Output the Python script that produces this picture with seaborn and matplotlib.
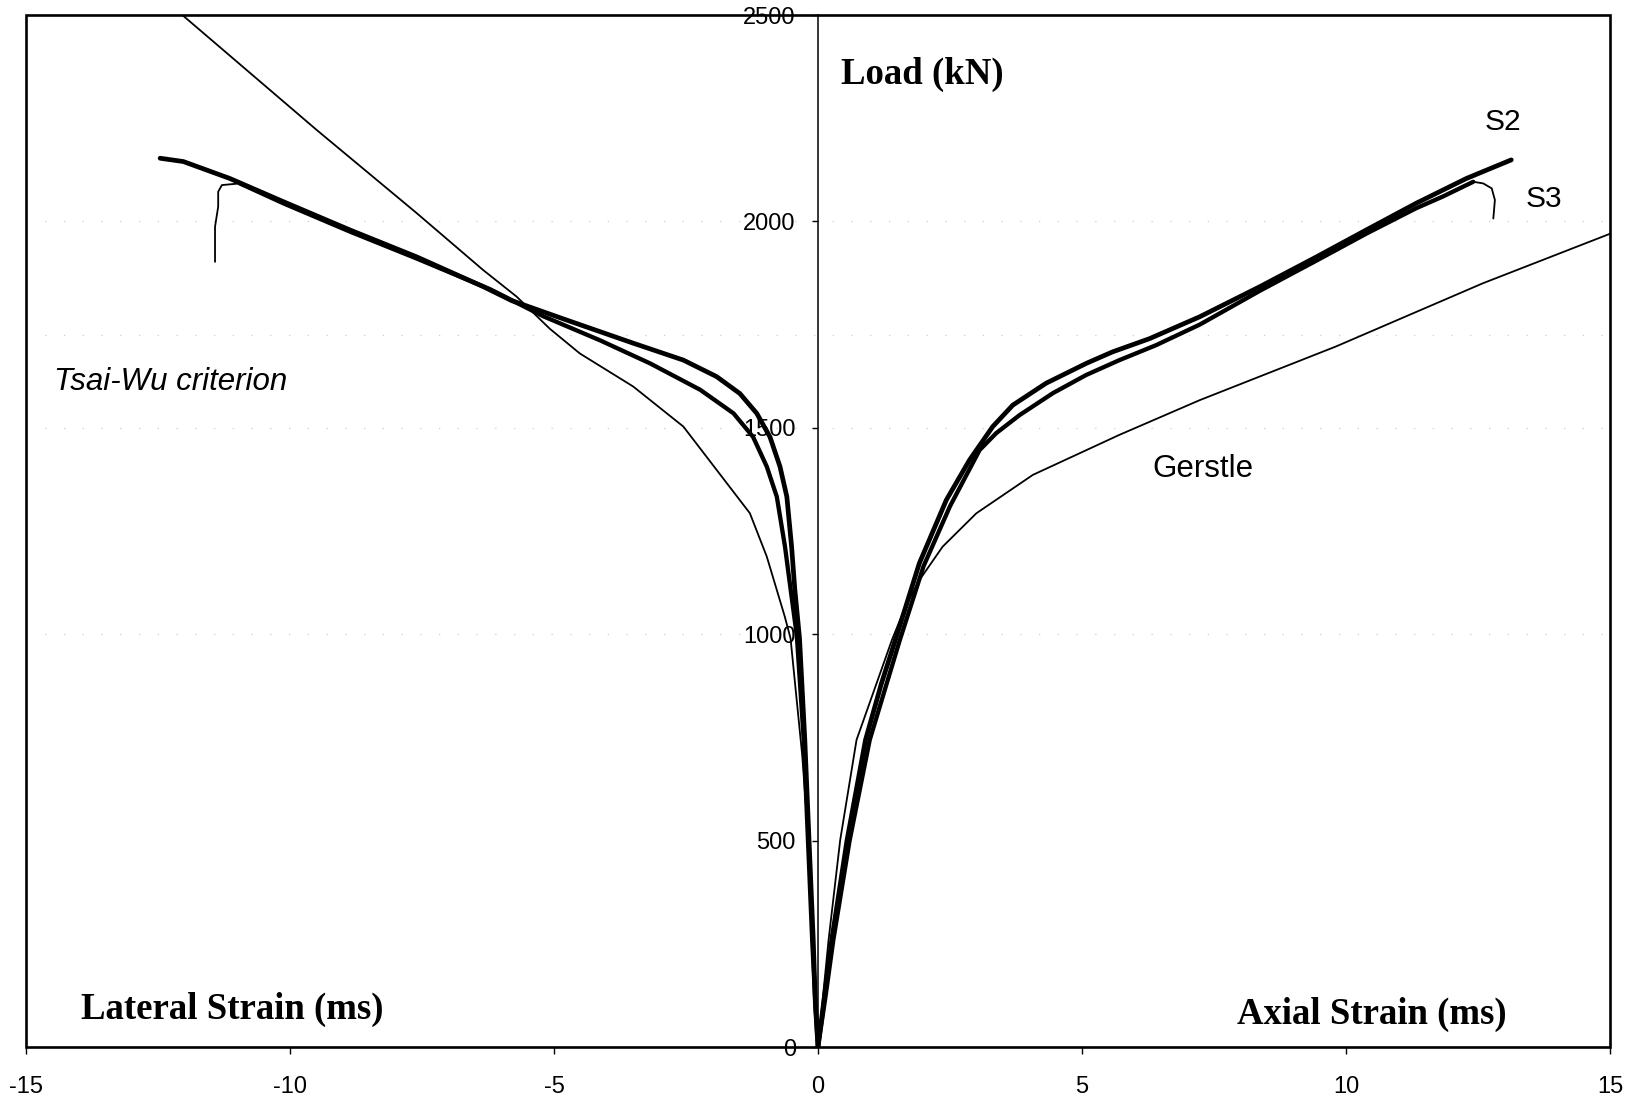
import numpy as np
import pandas as pd
import matplotlib
matplotlib.use("Agg")
import matplotlib.pyplot as plt
from matplotlib.patches import Rectangle
import seaborn as sns

# --- Measured load-strain curves (strain in ms, load in kN) ---
# Specimen S2, axial side
s2_axial_strain = [0, 0.12, 0.26, 0.55, 0.90, 1.20, 1.45, 1.92, 2.43, 2.87, 3.31, 3.69,
                   4.32, 5.08, 5.58, 6.28, 7.23, 8.37, 9.44, 10.38, 11.33, 12.28, 13.13]
s2_axial_load = [0, 120, 259, 501, 744, 880, 980, 1172, 1325, 1422, 1503, 1555,
                 1608, 1656, 1684, 1716, 1769, 1842, 1914, 1979, 2044, 2104, 2149]

# Specimen S2, lateral side
s2_lateral_strain = [0, -0.05, -0.09, -0.17, -0.25, -0.35, -0.44, -0.50, -0.59, -0.72, -0.91,
                     -1.16, -1.48, -1.92, -2.55, -3.50, -4.76, -5.80, -6.34, -7.60, -8.86,
                     -10.13, -11.14, -12.02, -12.46]
s2_lateral_load = [0, 105, 259, 501, 744, 990, 1110, 1212, 1333, 1406, 1478,
                   1535, 1583, 1624, 1664, 1705, 1761, 1808, 1842, 1914, 1979,
                   2048, 2104, 2145, 2153]

# Specimen S3, axial side (up to peak load)
s3_axial_strain = [0, 0.14, 0.29, 0.60, 0.98, 1.30, 1.55, 2.00, 2.50, 3.06, 3.375, 3.82,
                   4.45, 5.08, 5.71, 6.40, 7.23, 8.37, 9.44, 10.38, 11.33, 11.83, 12.41]
s3_axial_load = [0, 120, 259, 501, 744, 880, 986, 1165, 1310, 1446, 1487, 1531,
                 1584, 1628, 1664, 1700, 1750, 1832, 1905, 1970, 2032, 2060, 2096]
# Specimen S3, axial side (post-peak)
s3_axial_post_strain = [12.41, 12.60, 12.76, 12.82, 12.79]
s3_axial_post_load = [2096, 2092, 2080, 2052, 2007]

# Specimen S3, lateral side (up to peak load)
s3_lateral_strain = [0, -0.05, -0.11, -0.19, -0.27, -0.40, -0.52, -0.625, -0.78, -0.97, -1.23,
                     -1.60, -2.23, -3.18, -4.13, -5.20, -6.20, -7.60, -8.86, -10.13, -10.95]
s3_lateral_load = [0, 105, 259, 501, 744, 995, 1110, 1212, 1333, 1406, 1478,
                   1535, 1592, 1656, 1712, 1770, 1835, 1910, 1975, 2044, 2092]
# Specimen S3, lateral side (post-peak)
s3_lateral_post_strain = [-10.95, -11.29, -11.36, -11.36, -11.42, -11.42]
s3_lateral_post_load = [2092, 2088, 2072, 2036, 1987, 1902]

# --- Predictions ---
gerstle_strain = [0, 0.20, 0.42, 0.73, 1.40, 1.65, 1.92, 2.36, 3.00, 4.07, 5.71,
                  7.23, 9.81, 12.59, 15.20]
gerstle_load = [0, 259, 501, 744, 986, 1065, 1131, 1212, 1293, 1386, 1483,
                1567, 1697, 1850, 1980]

tsai_wu_strain = [0, -0.06, -0.15, -0.30, -0.52, -0.63, -0.97, -1.29, -1.92, -2.55, -3.50,
                  -4.51, -5.08, -5.71, -6.34, -7.60, -9.49, -12.04, -12.50]
tsai_wu_load = [0, 190, 449, 708, 990, 1043, 1188, 1293, 1398, 1503, 1600,
                1680, 1740, 1818, 1882, 2020, 2221, 2500, 2550]

x_ticks = [-15, -10, -5, 0, 5, 10, 15]
y_ticks = [0, 500, 1000, 1500, 2000, 2500]
grid_levels = [1000, 1500, 1725, 2000]

curves = {
    "S2 axial": (s2_axial_strain, s2_axial_load),
    "S2 lateral": (s2_lateral_strain, s2_lateral_load),
    "S3 axial": (s3_axial_strain, s3_axial_load),
    "S3 axial post": (s3_axial_post_strain, s3_axial_post_load),
    "S3 lateral": (s3_lateral_strain, s3_lateral_load),
    "S3 lateral post": (s3_lateral_post_strain, s3_lateral_post_load),
    "Gerstle": (gerstle_strain, gerstle_load),
    "Tsai-Wu": (tsai_wu_strain, tsai_wu_load),
}
frames = []
for name, (xs, ys) in curves.items():
    frames.append(pd.DataFrame({"strain": xs, "load": ys, "curve": name,
                                "order": np.arange(len(xs))}))
df = pd.concat(frames, ignore_index=True)

line_width = {
    "S2 axial": 3.4, "S2 lateral": 3.4, "S3 axial": 3.1, "S3 lateral": 3.1,
    "S3 axial post": 1.3, "S3 lateral post": 1.3, "Gerstle": 1.3, "Tsai-Wu": 1.3,
}

sns.set_theme(style="white")
plt.rcParams["font.family"] = ["Liberation Sans", "DejaVu Sans"]
plt.rcParams["axes.unicode_minus"] = False

fig = plt.figure(figsize=(16.37, 11.01), dpi=100)
ax = fig.add_axes([26 / 1637, 54 / 1101, 1584 / 1637, 1032 / 1101])

for level in grid_levels:
    ax.axhline(level, color="#cfcfcf", lw=0.9, ls=(0, (1, 14)), zorder=0)

for name in curves:
    sub = df[df["curve"] == name]
    sns.lineplot(data=sub, x="strain", y="load", sort=False, estimator=None,
                 color="black", lw=line_width[name], ax=ax, legend=False,
                 solid_capstyle="round", solid_joinstyle="round")

ax.set_xlim(-15, 15)
ax.set_ylim(0, 2500)
ax.set_xticks(x_ticks)
ax.set_yticks(y_ticks)
ax.set_xlabel("")
ax.set_ylabel("")

# Load axis runs up through zero strain; the frame is drawn separately
for side in ["top", "right", "bottom"]:
    ax.spines[side].set_visible(False)
ax.spines["left"].set_position(("data", 0))
ax.spines["left"].set_linewidth(1.1)
ax.spines["left"].set_color("black")
ax.add_patch(Rectangle((0, 0), 1, 1, transform=ax.transAxes, fill=False,
                       lw=1.9, edgecolor="black", clip_on=False, zorder=5))

ax.tick_params(axis="x", bottom=True, direction="out", length=5, width=1.0,
               pad=16, labelsize=17, colors="black")
ax.tick_params(axis="y", left=True, direction="out", length=4, width=1.0,
               pad=12, labelsize=17, colors="black")
for lab in ax.get_xticklabels() + ax.get_yticklabels():
    lab.set_fontfamily(["Liberation Sans", "DejaVu Sans"])

serif_bold = dict(family=["Liberation Serif", "DejaVu Serif"], fontweight="bold",
                  fontsize=26.5, color="black")
ax.text(0.44, 2355, "Load (kN)", ha="left", va="center", **serif_bold)
ax.text(-13.95, 90, "Lateral Strain (ms)", ha="left", va="center", **serif_bold)
ax.text(7.94, 80, "Axial Strain (ms)", ha="left", va="center", **serif_bold)

sans = dict(family=["Liberation Sans", "DejaVu Sans"], color="black")
ax.text(-14.47, 1612, "Tsai-Wu criterion", ha="left", va="center",
        fontsize=22.5, style="italic", **sans)
ax.text(12.63, 2240, "S2", ha="left", va="center", fontsize=21.5, **sans)
ax.text(13.41, 2054, "S3", ha="left", va="center", fontsize=21.5, **sans)
ax.text(6.33, 1400, "Gerstle", ha="left", va="center", fontsize=22.5, **sans)

fig.savefig("out.png", dpi=100, facecolor="white")
